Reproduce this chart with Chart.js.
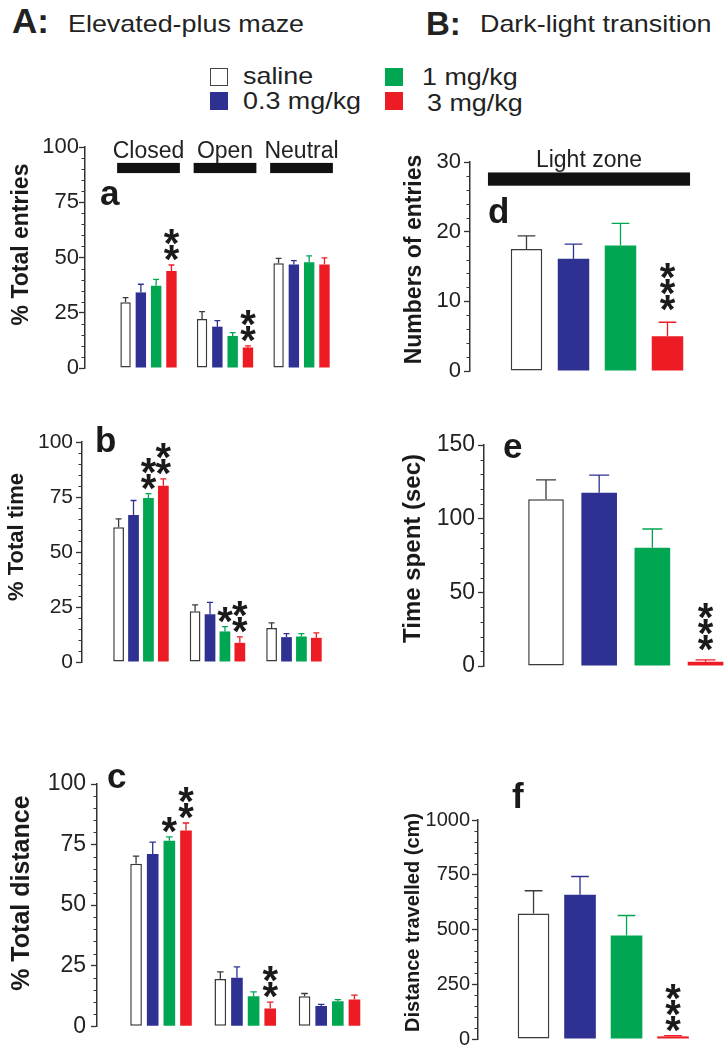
<!DOCTYPE html>
<html>
<head>
<meta charset="utf-8">
<script src="https://cdn.jsdelivr.net/npm/chart.js@4.4.0/dist/chart.umd.min.js"></script>
<style>
  body { margin: 0; background: #fff; overflow: hidden; }
  #fig { position: relative; width: 726px; height: 1049px; overflow: hidden;
         font-family: 'Liberation Sans', Arial, Helvetica, sans-serif; color: #222; }
  .txt { position: absolute; line-height: 1; white-space: nowrap; }
  .wide { transform: scaleX(1.12); transform-origin: left center; }
  .key { position: absolute; width: 18px; height: 18px; box-sizing: border-box; }
  canvas { position: absolute; }
</style>
</head>
<body>
<div id="fig">
  <div class="txt" style="left:12px;top:3px;font-size:35px;font-weight:bold">A:</div>
  <div class="txt wide" style="left:68px;top:12px;font-size:24px">Elevated-plus maze</div>
  <div class="txt" style="left:426px;top:7px;font-size:33px;font-weight:bold">B:</div>
  <div class="txt wide" style="left:480px;top:12px;font-size:24px">Dark-light transition</div>
</div>
<script>
const FONT = "'Liberation Sans', Arial, Helvetica, sans-serif";

// treatment groups (legend)
const treatments = ['saline', '0.3 mg/kg', '1 mg/kg', '3 mg/kg'];
const fillColors = ['#ffffff', '#2e3192', '#00a651', '#ed1c24'];
const lineColors = ['#3a3a3a', '#2e3192', '#00a651', '#ed1c24'];

// A: elevated-plus maze, one row per treatment, one value per arm
const armZones = ['Closed', 'Open', 'Neutral'];
const entriesMean = [[29.7, 22.2, 47.4], [34.2, 18.7, 46.8], [37.2, 14.5, 47.8], [43.9, 9.3, 46.8]];
const entriesSem = [[2.1, 3.3, 2.2], [3.7, 2.7, 1.8], [2.9, 1.5, 2.9], [2.7, 0.7, 3.0]];
const entriesStars = [[0, 0, 0], [0, 0, 0], [0, 0, 0], [2, 2, 0]];
const timeMean = [[61.3, 23.1, 15.5], [66.8, 21.7, 11.3], [74.5, 13.9, 11.6], [80.1, 8.7, 11.0]];
const timeSem = [[3.8, 2.9, 2.3], [6.6, 5.4, 1.6], [2.0, 2.2, 1.3], [3.1, 2.7, 2.2]];
const timeStars = [[0, 0, 0], [0, 0, 0], [2, 1, 0], [2, 2, 0]];
const distMean = [[67.1, 19.5, 12.4], [71.1, 20.0, 8.3], [76.6, 12.4, 10.3], [80.8, 7.3, 11.0]];
const distSem = [[3.1, 2.9, 1.1], [4.9, 4.5, 0.7], [1.6, 1.8, 0.7], [3.1, 2.6, 1.8]];
const distStars = [[0, 0, 0], [0, 0, 0], [1, 0, 0], [2, 2, 0]];

// B: dark-light transition, one value per treatment
const lightZone = 'Light zone';
const lightEntries = [17.5, 16.1, 18.0, 5.0];
const lightEntriesSem = [1.9, 2.1, 3.2, 2.0];
const lightTime = [113.2, 117.6, 80.3, 2.9];
const lightTimeSem = [13.1, 12.0, 12.7, 1.2];
const travelled = [573, 659, 473, 12];
const travelledSem = [104, 83, 91, 3];
const lightStars = [0, 0, 0, 3];

Chart.defaults.font.family = FONT;
Chart.defaults.color = '#222';

const fig = document.getElementById('fig');

// legend
const keySpots = [[210, 68, 243, 64], [210, 92, 243, 89], [385, 68, 422, 65], [385, 92, 427, 91]];
treatments.forEach((t, i) => {
  const [kx, ky, tx, ty] = keySpots[i];
  const sq = document.createElement('div');
  sq.className = 'key';
  sq.style.left = kx + 'px';
  sq.style.top = ky + 'px';
  sq.style.background = fillColors[i];
  if (i === 0) sq.style.border = '1.5px solid #444';
  fig.appendChild(sq);
  const lb = document.createElement('div');
  lb.className = 'txt wide';
  lb.style.left = tx + 'px';
  lb.style.top = ty + 'px';
  lb.style.fontSize = '24px';
  lb.textContent = t;
  fig.appendChild(lb);
});

const panels = [
  { letter: 'a', arms: true, mean: entriesMean, sem: entriesSem, stars: entriesStars,
    title: '% Total entries', yMax: 100, yMinor: 5, yMajor: 25,
    box: [0, 122, 355, 264], pad: [25, 18], yW: 85, tickSize: 22, tickPad: 0,
    xRange: [0.170, 3.699], catPct: 0.80, barPct: 0.68,
    titleAt: [22, -13, 23], letterAt: [15, 58], starGap: 4,
    band: { y0: 88.2, y1: 92.8, text: 95 } },
  { letter: 'b', arms: true, mean: timeMean, sem: timeSem, stars: timeStars,
    title: '% Total time', yMax: 100, yMinor: 5, yMajor: 25,
    box: [0, 417, 355, 263], pad: [25, 18], yW: 82, tickSize: 21, tickPad: 3,
    xRange: [0.229, 3.798], catPct: 0.78, barPct: 0.72,
    titleAt: [17, -15, 22], letterAt: [13, 10], starGap: 4 },
  { letter: 'c', arms: true, mean: distMean, sem: distSem, stars: distStars,
    title: '% Total distance', yMax: 100, yMinor: 5, yMajor: 25,
    box: [0, 759, 368, 286], pad: [25, 18], yW: 97, tickSize: 23, tickPad: 5,
    xRange: [0.240, 3.457], catPct: 0.79, barPct: 0.70,
    titleAt: [22, -12, 25], letterAt: [10, 4], starGap: 4 },
  { letter: 'd', arms: false, mean: lightEntries, sem: lightEntriesSem, stars: lightStars,
    title: 'Numbers of entries', yMax: 30, yMinor: 2, yMajor: 10,
    box: [355, 137, 371, 252], pad: [25, 18], yW: 115, tickSize: 22, tickPad: 3,
    xRange: [-0.202, 5.245], catPct: 1, barPct: 0.67,
    titleAt: [60, -7, 23], letterAt: [18, 61], starGap: 11,
    band: { x0: 0.18, x1: 4.48, y0: 26.6, y1: 28.5, text: 29.3 } },
  { letter: 'e', arms: false, mean: lightTime, sem: lightTimeSem, stars: lightStars,
    title: 'Time spent (sec)', yMax: 150, yMinor: 10, yMajor: 50,
    box: [355, 420, 371, 264], pad: [25, 18], yW: 129, tickSize: 23, tickPad: 3,
    xRange: [-0.166, 4.385], catPct: 1, barPct: 0.67,
    titleAt: [58, -7, 24], letterAt: [19, 13], starGap: 9 },
  { letter: 'f', arms: false, mean: travelled, sem: travelledSem, stars: lightStars,
    title: 'Distance travelled (cm)', yMax: 1000, yMinor: 50, yMajor: 250,
    box: [355, 770, 371, 283], pad: [50, 13], yW: 123, tickSize: 20, tickPad: 2,
    xRange: [-0.194, 5.139], catPct: 1, barPct: 0.68,
    titleAt: [58, -7, 20], letterAt: [34, -12], starGap: 4 }
];

const pick = (v, i) => (Array.isArray(v) ? v[i] : v);

// error bars, significance stars, minor ticks, panel letter, axis title, zone bands
function marks(p) {
  return {
    id: 'marks',
    afterDatasetsDraw(chart) {
      const { ctx } = chart;
      const y = chart.scales.y;
      ctx.save();
      chart.data.datasets.forEach((ds, di) => {
        chart.getDatasetMeta(di).data.forEach((bar, i) => {
          const top = y.getPixelForValue(ds.data[i].y + ds.sem[i]);
          const half = bar.width * 0.28;
          ctx.strokeStyle = pick(ds.errColor, i);
          ctx.lineWidth = 1.3;
          ctx.beginPath();
          ctx.moveTo(bar.x, bar.y);
          ctx.lineTo(bar.x, top);
          ctx.moveTo(bar.x - half, top);
          ctx.lineTo(bar.x + half, top);
          ctx.stroke();
          const n = ds.stars[i];
          if (n) {
            ctx.font = 'bold 40px ' + FONT;
            ctx.fillStyle = '#1a1a1a';
            ctx.textAlign = 'center';
            ctx.textBaseline = 'alphabetic';
            const m = ctx.measureText('*');
            const h = m.actualBoundingBoxAscent + m.actualBoundingBoxDescent;
            let bottom = top - p.starGap;
            for (let k = 0; k < n; k++) {
              ctx.fillText('*', bar.x, bottom - m.actualBoundingBoxDescent);
              bottom -= h;
            }
          }
        });
      });
      ctx.restore();
    },
    afterDraw(chart) {
      const { ctx, chartArea } = chart;
      const y = chart.scales.y, x = chart.scales.x;
      ctx.save();
      // minor ticks
      ctx.strokeStyle = '#333';
      ctx.lineWidth = 1;
      y.ticks.forEach(t => {
        if (t.value % p.yMajor === 0) return;
        const py = Math.round(y.getPixelForValue(t.value)) + 0.5;
        ctx.beginPath();
        ctx.moveTo(chartArea.left - 3.5, py);
        ctx.lineTo(chartArea.left, py);
        ctx.stroke();
      });
      // panel letter
      ctx.fillStyle = '#1a1a1a';
      ctx.font = 'bold 35px ' + FONT;
      ctx.textAlign = 'left';
      ctx.textBaseline = 'alphabetic';
      ctx.fillText(p.letter, chartArea.left + p.letterAt[0], chartArea.top + p.letterAt[1]);
      // y axis title
      ctx.save();
      ctx.translate(p.titleAt[0], (chartArea.top + chartArea.bottom) / 2 + p.titleAt[1]);
      ctx.rotate(-Math.PI / 2);
      ctx.font = 'bold ' + p.titleAt[2] + 'px ' + FONT;
      ctx.textAlign = 'center';
      ctx.textBaseline = 'middle';
      ctx.fillText(p.title, 0, 0);
      ctx.restore();
      // zone bands
      if (p.band) {
        const spans = p.arms
          ? armZones.map((z, i) => [z, i + 1 - 0.41, i + 1 + 0.41])
          : [[lightZone, p.band.x0, p.band.x1]];
        ctx.font = '23px ' + FONT;
        ctx.textAlign = 'center';
        spans.forEach(([label, a, b]) => {
          const xa = x.getPixelForValue(a), xb = x.getPixelForValue(b);
          const ya = y.getPixelForValue(p.band.y1), yb = y.getPixelForValue(p.band.y0);
          ctx.fillStyle = '#111';
          ctx.fillRect(xa, ya, xb - xa, yb - ya);
          ctx.fillStyle = '#222';
          ctx.fillText(label, (xa + xb) / 2, y.getPixelForValue(p.band.text));
        });
      }
      ctx.restore();
    }
  };
}

panels.forEach(p => {
  const cv = document.createElement('canvas');
  const [left, top, w, h] = p.box;
  cv.width = w;
  cv.height = h;
  cv.style.left = left + 'px';
  cv.style.top = top + 'px';
  fig.appendChild(cv);

  let datasets;
  if (p.arms) {
    datasets = treatments.map((t, k) => ({
      label: t,
      data: armZones.map((z, i) => ({ x: i + 1, y: p.mean[k][i] })),
      sem: p.sem[k],
      stars: p.stars[k],
      backgroundColor: fillColors[k],
      borderColor: lineColors[k],
      errColor: lineColors[k],
      borderWidth: k === 0 ? 1.5 : 0,
      borderSkipped: false
    }));
  } else {
    datasets = [{
      label: lightZone,
      data: treatments.map((t, i) => ({ x: i + 1, y: p.mean[i] })),
      sem: p.sem,
      stars: p.stars,
      backgroundColor: fillColors,
      borderColor: lineColors,
      errColor: lineColors,
      borderWidth: fillColors.map((c, i) => (i === 0 ? 1.5 : 0)),
      borderSkipped: false
    }];
  }

  new Chart(cv, {
    type: 'bar',
    data: { datasets },
    options: {
      responsive: false,
      animation: false,
      events: [],
      categoryPercentage: p.catPct,
      barPercentage: p.barPct,
      layout: { padding: { top: p.pad[0], bottom: p.pad[1], left: 0, right: 0 } },
      plugins: { legend: { display: false }, tooltip: { enabled: false } },
      scales: {
        x: {
          type: 'linear',
          display: false,
          offset: false,
          min: p.xRange[0],
          max: p.xRange[1],
          afterBuildTicks: s => { s.ticks = []; }
        },
        y: {
          min: 0,
          max: p.yMax,
          afterFit: s => { s.width = p.yW; },
          border: { display: true, color: '#333', width: 1.5 },
          grid: {
            display: true,
            drawOnChartArea: false,
            drawTicks: true,
            tickLength: 6,
            tickWidth: 1.3,
            tickColor: c => (c.tick && c.tick.value % p.yMajor === 0 ? '#333' : 'rgba(0,0,0,0)')
          },
          ticks: {
            stepSize: p.yMinor,
            maxTicksLimit: 100,
            autoSkip: false,
            padding: p.tickPad,
            color: '#222',
            font: { size: p.tickSize },
            callback: v => (v % p.yMajor === 0 ? v : '')
          }
        }
      }
    },
    plugins: [marks(p)]
  });
});
</script>
</body>
</html>
